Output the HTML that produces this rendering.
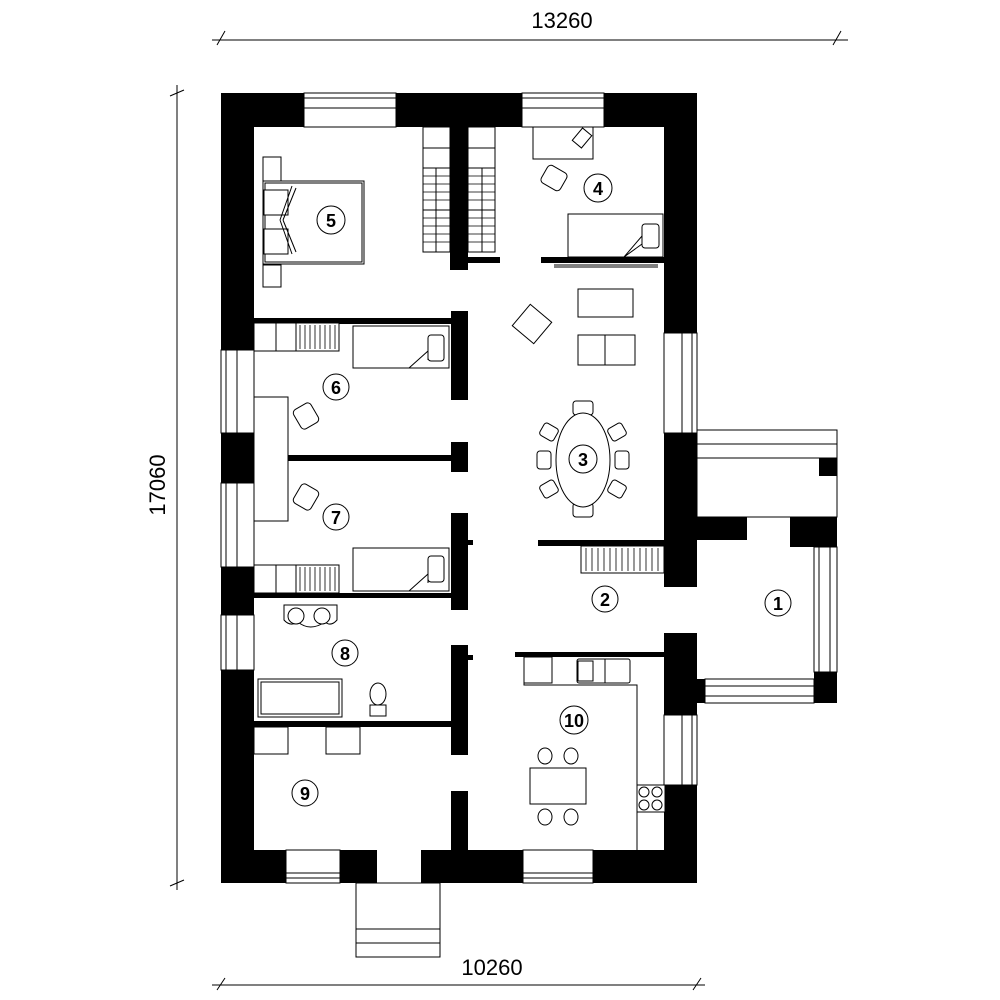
<!DOCTYPE html>
<html><head><meta charset="utf-8"><style>
html,body{margin:0;padding:0;background:#fff}
svg{display:block}
text{font-family:"Liberation Sans",sans-serif}
</style></head><body>
<svg width="1000" height="1000" viewBox="0 0 1000 1000" xmlns="http://www.w3.org/2000/svg">
<rect width="1000" height="1000" fill="#fff"/>
<!-- dimension lines -->
<g stroke="#000" stroke-width="1" fill="none">
<line x1="212" y1="40" x2="848" y2="40"/>
<line x1="217" y1="45" x2="225" y2="31"/><line x1="833" y1="45" x2="841" y2="31"/>
<line x1="177" y1="85" x2="177" y2="890"/>
<line x1="170" y1="96" x2="184" y2="90"/><line x1="170" y1="886" x2="184" y2="880"/>
<line x1="212" y1="985" x2="705" y2="985"/>
<line x1="217" y1="990" x2="225" y2="978"/><line x1="693" y1="990" x2="701" y2="978"/>
</g>
<text x="562" y="28" font-size="22" text-anchor="middle">13260</text>
<text x="492" y="975" font-size="22" text-anchor="middle">10260</text>
<text transform="translate(165,485) rotate(-90)" font-size="22" text-anchor="middle">17060</text>

<!-- outer walls -->
<g fill="#000">
<rect x="221" y="93" width="476" height="34"/>
<rect x="221" y="93" width="33" height="790"/>
<rect x="664" y="93" width="33" height="494"/>
<rect x="664" y="633" width="33" height="250"/>
<rect x="221" y="850" width="156" height="33"/>
<rect x="421" y="850" width="276" height="33"/>
<!-- interior walls -->
<rect x="450" y="127" width="18" height="143"/>
<rect x="468" y="257" width="32" height="6"/>
<rect x="541" y="257" width="123" height="6"/>
<rect x="254" y="318" width="197" height="6"/>
<rect x="451" y="311" width="17" height="89"/>
<rect x="254" y="455" width="197" height="6"/>
<rect x="451" y="442" width="17" height="30"/>
<rect x="451" y="513" width="17" height="97"/>
<rect x="468" y="540" width="5" height="5"/>
<rect x="254" y="593" width="197" height="5"/>
<rect x="451" y="645" width="17" height="110"/>
<rect x="468" y="655" width="5" height="5"/>
<rect x="254" y="721" width="197" height="6"/>
<rect x="451" y="791" width="17" height="59"/>
<rect x="538" y="540" width="126" height="6"/>
<rect x="515" y="652" width="150" height="5"/>
<!-- vestibule -->
<rect x="697" y="517" width="50" height="23"/>
<rect x="790" y="517" width="47" height="30"/>
<rect x="814" y="672" width="23" height="31"/>
<rect x="697" y="679" width="8" height="24"/>
<rect x="819" y="458" width="18" height="18"/>
</g>

<!-- windows -->
<g fill="#fff" stroke="#000" stroke-width="1">
<rect x="304" y="93" width="92" height="34"/><line x1="304" y1="98" x2="396" y2="98"/><line x1="304" y1="108" x2="396" y2="108"/>
<rect x="522" y="93" width="82" height="34"/><line x1="522" y1="98" x2="604" y2="98"/><line x1="522" y1="108" x2="604" y2="108"/>
<rect x="221" y="350" width="33" height="83"/><line x1="226" y1="350" x2="226" y2="433"/><line x1="237" y1="350" x2="237" y2="433"/>
<rect x="221" y="483" width="33" height="84"/><line x1="226" y1="483" x2="226" y2="567"/><line x1="237" y1="483" x2="237" y2="567"/>
<rect x="221" y="615" width="33" height="55"/><line x1="226" y1="615" x2="226" y2="670"/><line x1="237" y1="615" x2="237" y2="670"/>
<rect x="664" y="333" width="33" height="100"/><line x1="682" y1="333" x2="682" y2="433"/><line x1="692" y1="333" x2="692" y2="433"/>
<rect x="664" y="715" width="33" height="70"/><line x1="682" y1="715" x2="682" y2="785"/><line x1="692" y1="715" x2="692" y2="785"/>
<rect x="286" y="850" width="54" height="33"/><line x1="286" y1="873" x2="340" y2="873"/><line x1="286" y1="878" x2="340" y2="878"/>
<rect x="523" y="850" width="70" height="33"/><line x1="523" y1="873" x2="593" y2="873"/><line x1="523" y1="878" x2="593" y2="878"/>
<rect x="814" y="547" width="23" height="125"/><line x1="819" y1="547" x2="819" y2="672"/><line x1="830" y1="547" x2="830" y2="672"/>
<rect x="705" y="679" width="109" height="24"/><line x1="705" y1="686" x2="814" y2="686"/><line x1="705" y1="696" x2="814" y2="696"/>
<!-- porch canopy -->
<rect x="697" y="430" width="140" height="87" fill="none"/>
<line x1="697" y1="444" x2="837" y2="444"/><line x1="697" y1="458" x2="837" y2="458"/>
<!-- steps -->
<rect x="356" y="883" width="84" height="74" fill="none"/>
<line x1="356" y1="929" x2="440" y2="929"/><line x1="356" y1="943" x2="440" y2="943"/>
<line x1="554" y1="265" x2="658" y2="265"/><line x1="554" y1="267" x2="658" y2="267"/>
</g>

<!-- furniture -->
<g fill="#fff" stroke="#000" stroke-width="1">
<!-- wardrobes -->
<rect x="423" y="127" width="27" height="125"/><line x1="423" y1="148" x2="450" y2="148"/><line x1="423" y1="168" x2="450" y2="168"/><line x1="423" y1="210" x2="450" y2="210"/><line x1="436" y1="168" x2="436" y2="252"/>
<rect x="468" y="127" width="27" height="125"/><line x1="468" y1="148" x2="495" y2="148"/><line x1="468" y1="168" x2="495" y2="168"/><line x1="468" y1="210" x2="495" y2="210"/><line x1="482" y1="168" x2="482" y2="252"/>
<!-- bed 5 -->
<rect x="263" y="157" width="18" height="24"/><rect x="263" y="265" width="18" height="22"/>
<rect x="263" y="181" width="101" height="83"/><rect x="265" y="183" width="97" height="79"/>
<rect x="264" y="190" width="24" height="25"/><rect x="264" y="229" width="24" height="25"/>
<path d="M280 220 L292 186 M280 220 L292 254 M283 220 L296 188 M283 220 L296 252"/>
<!-- room 4 -->
<rect x="533" y="127" width="60" height="32"/>
<rect x="576" y="130" width="12" height="16" transform="rotate(40 582 138)"/>
<rect x="543" y="168" width="22" height="20" rx="4" transform="rotate(30 554 178)"/>
<rect x="568" y="214" width="95" height="43"/>
<rect x="642" y="224" width="17" height="24" rx="3"/>
<path d="M624 257 L642 236 L642 244 Z"/>
<!-- living -->
<rect x="578" y="289" width="55" height="28"/>
<rect x="518" y="310" width="28" height="28" transform="rotate(40 532 324)"/>
<rect x="578" y="335" width="57" height="30"/><line x1="605" y1="335" x2="605" y2="365"/>
<!-- dining -->
<g stroke-width="1">
<rect x="573" y="401" width="20" height="14" rx="3"/><rect x="573" y="503" width="20" height="14" rx="3"/>
<rect x="537" y="451" width="14" height="18" rx="3"/><rect x="615" y="451" width="14" height="18" rx="3"/>
<rect x="541" y="425" width="16" height="14" rx="3" transform="rotate(30 549 432)"/>
<rect x="609" y="425" width="16" height="14" rx="3" transform="rotate(-30 617 432)"/>
<rect x="541" y="482" width="16" height="14" rx="3" transform="rotate(-30 549 489)"/>
<rect x="609" y="482" width="16" height="14" rx="3" transform="rotate(30 617 489)"/>
</g>
<ellipse cx="583" cy="460" rx="27" ry="47"/>
<!-- room 6 -->
<rect x="254" y="323" width="85" height="28"/><line x1="276" y1="323" x2="276" y2="351"/><line x1="296" y1="323" x2="296" y2="351"/>
<rect x="353" y="326" width="96" height="42"/><rect x="428" y="335" width="16" height="26" rx="3"/><path d="M409 368 L428 351 L428 360"/>
<rect x="254" y="397" width="34" height="124"/>
<rect x="296" y="405" width="20" height="22" rx="4" transform="rotate(-30 306 416)"/>
<rect x="296" y="486" width="20" height="22" rx="4" transform="rotate(30 306 497)"/>
<!-- room 7 -->
<rect x="254" y="565" width="85" height="28"/><line x1="276" y1="565" x2="276" y2="593"/><line x1="296" y1="565" x2="296" y2="593"/>
<rect x="353" y="548" width="96" height="43"/><rect x="428" y="556" width="16" height="26" rx="3"/><path d="M409 591 L428 574 L428 583"/>
<!-- hall closet -->
<rect x="581" y="546" width="83" height="27"/>
<!-- bath -->
<path d="M284 605 L337 605 L337 620 Q331 627 325 622 Q310 632 298 622 Q290 627 284 620 Z"/>
<circle cx="296" cy="616" r="8"/><circle cx="322" cy="616" r="8"/>
<rect x="258" y="679" width="84" height="38"/><rect x="261" y="682" width="78" height="32"/>
<ellipse cx="378" cy="694" rx="8" ry="11"/><rect x="370" y="705" width="16" height="11"/>
<!-- room 9 -->
<rect x="254" y="727" width="34" height="27"/><rect x="326" y="727" width="34" height="27"/>
<!-- kitchen -->
<path d="M524 657 L524 685 L637 685 L637 850"/>
<rect x="524" y="657" width="28" height="26"/>
<rect x="577" y="659" width="53" height="24" rx="2"/><rect x="578" y="661" width="15" height="20"/><line x1="605" y1="659" x2="605" y2="683"/>
<rect x="637" y="785" width="28" height="27"/>
<circle cx="644" cy="792" r="5"/><circle cx="657" cy="792" r="5"/><circle cx="644" cy="805" r="5"/><circle cx="657" cy="805" r="5"/>
<rect x="530" y="768" width="56" height="36"/>
<ellipse cx="545" cy="756" rx="7" ry="8"/><ellipse cx="571" cy="756" rx="7" ry="8"/>
<ellipse cx="545" cy="817" rx="7" ry="8"/><ellipse cx="571" cy="817" rx="7" ry="8"/>
</g>
<!-- hatch lines -->
<g stroke="#000" stroke-width="0.8">
<path d="M423 176 H450 M423 184 H450 M423 192 H450 M423 200 H450 M423 218 H450 M423 226 H450 M423 234 H450 M423 242 H450"/>
<path d="M468 176 H495 M468 184 H495 M468 192 H495 M468 200 H495 M468 218 H495 M468 226 H495 M468 234 H495 M468 242 H495"/>
<path d="M300 325 V349 M305 325 V349 M310 325 V349 M315 325 V349 M320 325 V349 M325 325 V349 M330 325 V349 M335 325 V349"/>
<path d="M300 567 V591 M305 567 V591 M310 567 V591 M315 567 V591 M320 567 V591 M325 567 V591 M330 567 V591 M335 567 V591"/>
<path d="M586 548 V571 M592 548 V571 M598 548 V571 M604 548 V571 M610 548 V571 M616 548 V571 M622 548 V571 M628 548 V571 M634 548 V571 M640 548 V571 M646 548 V571 M652 548 V571 M658 548 V571"/>
</g>
<!-- room labels -->
<g fill="#fff" stroke="#000" stroke-width="1">
<circle cx="778" cy="603" r="13"/><circle cx="605" cy="599" r="13"/><circle cx="583" cy="459" r="14"/>
<circle cx="598" cy="188" r="14"/><circle cx="331" cy="220" r="14"/><circle cx="336" cy="387" r="13"/>
<circle cx="336" cy="517" r="13"/><circle cx="345" cy="653" r="13"/><circle cx="305" cy="793" r="13"/><circle cx="574" cy="720" r="14"/>
</g>
<g font-size="18" font-weight="bold" text-anchor="middle">
<text x="778" y="610">1</text><text x="605" y="606">2</text><text x="583" y="466">3</text>
<text x="598" y="195">4</text><text x="331" y="227">5</text><text x="336" y="394">6</text>
<text x="336" y="524">7</text><text x="345" y="660">8</text><text x="305" y="800">9</text><text x="574" y="727">10</text>
</g>
</svg>
</body></html>
